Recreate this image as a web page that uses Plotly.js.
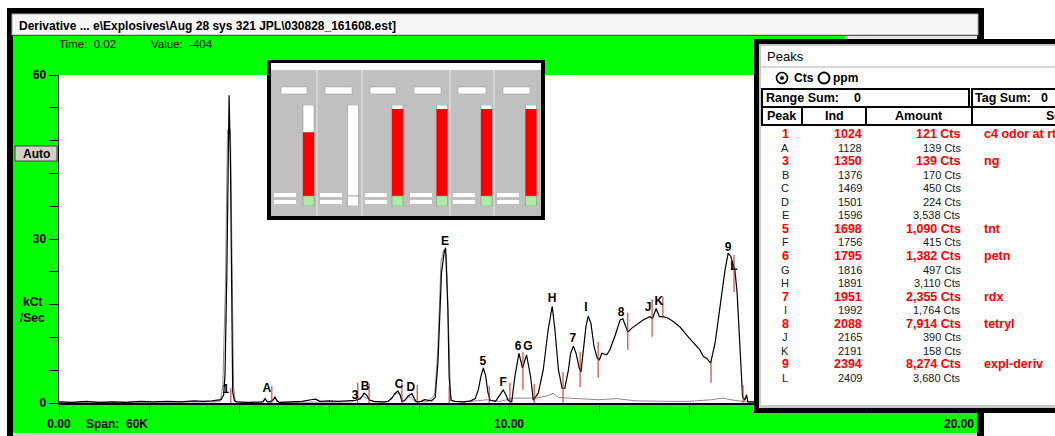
<!DOCTYPE html>
<html><head><meta charset="utf-8">
<script src="https://cdn.plot.ly/plotly-3.0.1.min.js"></script>
<style>html,body{margin:0;padding:0;background:#fff;overflow:hidden}#chart{width:1055px;height:436px}</style>
</head><body><div id="chart"></div>
<script>
// ---------- chart data ----------
const timeMain = [
 0,0.3,0.6,0.9,1.2,1.5,1.8,2.1,2.4,2.7,3.0,3.2,3.4,3.52,
 3.60,3.66,3.69,3.73,3.76,3.78,3.81,3.84,3.86,3.90,3.95,
 4.2,4.45,4.53,4.58,4.63,4.70,4.76,4.80,4.85,4.90,
 5.1,5.4,5.6,5.7,5.8,6.0,6.2,6.45,6.6,
 6.70,6.78,6.84,6.90,7.0,7.2,7.31,
 7.40,7.47,7.53,7.58,7.62,
 7.68,7.76,7.84,7.88,7.93,
 7.98,8.05,8.12,8.20,8.28,8.33,
 8.36,8.42,8.50,8.56,8.59,8.64,8.67,8.71,
 8.8,9.0,9.15,9.25,
 9.32,9.38,9.43,9.48,9.53,9.58,
 9.70,9.80,9.87,9.93,9.98,10.06,
 10.13,10.22,10.30,10.39,10.48,10.54,
 10.65,10.76,10.87,10.96,11.02,11.10,11.18,11.24,
 11.32,11.37,11.43,11.49,11.56,11.60,
 11.65,11.71,11.76,11.82,11.89,11.96,12.01,
 12.06,12.17,12.24,12.36,12.47,12.53,12.64,12.73,12.84,12.98,13.13,13.19,13.27,13.34,13.43,13.54,13.65,13.80,13.95,14.10,14.24,14.32,14.39,14.48,
 14.58,14.65,14.73,14.80,14.87,14.93,14.97,15.02,15.07,15.12,15.16,15.19,15.24,15.28,15.31,
 15.6,16.2,17.0,18.0,19.0,20.0
];
const signalMain = [
 0.2,0.1,0.3,0.1,0.2,0.1,0.3,0.2,0.3,0.2,0.4,0.3,0.4,0.5,
 0.6,1.5,5.5,23.8,44.4,56.3,44.0,20.0,2.0,0.4,0.2,
 0.1,0.2,0.2,0.8,0.2,0.2,0.6,1.1,0.3,0.1,
 0.2,0.3,0.6,0.7,0.3,0.4,0.3,0.5,0.5,
 0.8,1.8,1.4,0.5,0.3,0.2,0.3,
 0.9,1.8,2.2,1.5,0.3,
 0.4,1.3,1.7,1.1,0.3,
 0.2,0.3,0.6,0.5,0.4,0.8,
 1.0,7.3,23.8,27.6,28.4,17.6,4.8,0.5,
 0.3,0.2,0.4,0.8,
 2.5,5.0,6.4,5.0,2.0,0.5,
 0.3,1.5,2.4,1.5,0.5,0.2,
 4.8,9.1,6.4,8.8,4.8,0.5,
 1.8,6.0,13.4,17.7,13.4,6.0,2.7,2.7,
 6.0,9.1,10.4,9.1,6.4,5.7,
 9.1,14.0,15.9,14.6,10.3,8.2,7.9,
 9.1,8.8,9.7,12.4,15.2,15.4,13.0,13.7,14.3,15.2,15.8,15.5,17.3,15.8,15.8,15.5,14.9,13.9,12.4,10.9,9.7,8.5,8.2,7.3,
 11.0,15.2,20.1,24.3,27.4,26.8,25.6,24.3,20.1,12.1,4.2,1.2,0.5,1.5,0.2,
 0.2,0.1,0.2,0.1,0.2,0.1
];
const timeGray = [0,1,2,3,3.5,3.58,3.64,3.70,3.745,3.81,3.85,3.88,3.92,4.0,4.5,4.58,4.65,4.8,4.9,5.5,6.5,6.75,6.85,7.0,7.3,7.45,7.55,7.65,7.8,7.9,8.2,8.35,8.42,8.49,8.55,8.61,8.66,8.70,8.74,9.0,9.3,9.5,9.8,10.1,10.6,10.85,10.98,11.1,11.3,12.0,12.4,12.8,13.5,14.0,14.5,14.75,15.0,15.3,16,18,20];
const signalGray = [0.1,0.1,0.1,0.1,0.2,0.3,3.0,22,50,50,22,3.0,0.3,0.1,0.1,0.6,0.2,0.8,0.1,0.1,0.2,1.2,0.9,0.2,0.2,1.5,1.8,0.4,1.2,0.3,0.2,1.5,10,26,28,27,10,1.5,0.3,0.2,0.4,0.6,0.3,0.9,0.9,1.3,1.8,1.0,0.9,0.6,0.8,0.4,0.3,0.3,0.6,0.9,0.5,0.2,0.1,0.1,0.1];

const peakLabels = ['1','A','3','B','C','D','E','5','F','6','G','H','7','I','8','J','K','9','L'];
const labelTime  = [3.71,4.62,6.58,6.80,7.56,7.82,8.58,9.42,9.87,10.20,10.42,10.96,11.42,11.71,12.49,13.09,13.33,14.87,15.00];
const labelLevel = [2.4,2.6,1.3,2.9,3.3,2.7,29.4,7.5,3.7,10.2,10.2,19.0,11.7,17.4,16.5,17.4,18.5,28.4,24.9];

const markerTime   = [3.82,4.73,6.64,6.89,7.62,7.96,8.67,9.56,10.02,10.31,10.56,11.20,11.58,11.98,12.64,13.18,13.42,14.49,15.00,15.20];
const markerTop    = [2.7,3.1,3.7,3.5,3.7,3.3,3.1,3.1,3.7,9.3,3.5,5.7,9.3,11.2,16.5,19.0,19.4,7.9,27.1,3.3];
const markerBottom = [0,0,0,0,0,0,0,0,0,2.4,0,0,2.9,4.6,9.7,12.1,15.5,3.7,20.3,0];

const xTickVals = [0,2,4,6,8,10,12,14,16,18,20];
const xTickText = ['0.00','','','','','10.00','','','','','20.00'];
const yTickVals = [0,6,12,18,24,30,36,42,48,54,60];
const yTickText = ['0','','','','','30','','','','','60'];

const peakIds    = ['1','A','3','B','C','D','E','5','F','6','G','H','7','I','8','J','K','9','L'];
const peakInd    = [1024,1128,1350,1376,1469,1501,1596,1698,1756,1795,1816,1891,1951,1992,2088,2165,2191,2394,2409];
const peakAmount = [121,139,139,170,450,224,3538,1090,415,1382,497,3110,2355,1764,7914,390,158,8274,3680];
const peakSource = ['c4 odor at rt','','ng','','','','','tnt','','petn','','','rdx','','tetryl','','','expl-deriv',''];

const sensorIndex  = [0,1,2,3,4,5];
const sensorLevels = [0.70,0,0.955,0.955,0.955,0.955];
const sensorStatus = [1,0,1,1,1,1];

// ---------- page geometry helpers ----------
const FONT = 'Liberation Sans, Arial, sans-serif';
const PL=59, PR=959, PT=75, PB=403;
const PW=PR-PL, PH=PB-PT;
const fx = p => (p-PL)/PW, fy = p => (PB-p)/PH;
const shapes = [], annotations = [];
function rect(x0,y0,x1,y1,fill,layer,lc,lw){
  shapes.push({type:'rect',xref:'paper',yref:'paper',x0:fx(x0),x1:fx(x1),y0:fy(y1),y1:fy(y0),
    fillcolor:fill,line:{color:lc||'rgba(0,0,0,0)',width:lw||0},layer:layer||'below'});
}
function line(x0,y0,x1,y1,color,w,layer){
  shapes.push({type:'line',xref:'paper',yref:'paper',x0:fx(x0),x1:fx(x1),y0:fy(y0),y1:fy(y1),
    line:{color:color,width:w},layer:layer||'below'});
}
function circle(cx,cy,r,fill,lc,lw,layer){
  shapes.push({type:'circle',xref:'paper',yref:'paper',x0:fx(cx-r),x1:fx(cx+r),y0:fy(cy+r),y1:fy(cy-r),
    fillcolor:fill,line:{color:lc,width:lw},layer:layer||'above'});
}
function txt(px,py,s,o){
  o=o||{};
  annotations.push({xref:'paper',yref:'paper',x:fx(px),y:fy(py),text:s,showarrow:false,
    xanchor:o.anchor||'left',yanchor:'middle',borderpad:0,
    font:{family:FONT,size:o.size||11,color:o.color||'#000',weight:o.weight||'normal'}});
}

// main window frame
rect(7,8,984,440,'#000');
rect(12,14,978,35,'#f6f6f6','below','#a8a8a8',1);
rect(13,36,977,433,'#00ff00');
rect(13,433,977,437,'#d0d0d0');
rect(845,36,977,41,'#e4e4e4');
rect(PL,PT,PR,PB,'#ffffff');
txt(18,26,'Derivative ... e\\Explosives\\Aug 28 sys 321 JPL\\030828_161608.est]',{size:12,weight:'bold'});
txt(58,44,'Time:  0.02',{size:11.5});
txt(150,44,'Value:  -404',{size:11.5});
rect(15,146,57,161,'#d4d0c8','below','#404040',1);
txt(36,153.5,'Auto',{size:12,weight:'bold',anchor:'center'});
txt(32.5,302,'kCt',{size:12,weight:'bold',anchor:'center'});
txt(32,318,'/Sec',{size:12,weight:'bold',anchor:'center'});
txt(85,424,'Span:  60K',{size:12,weight:'bold'});

// inset sensor display (background, bars come from traces)
rect(267,60,545,220,'#000');
rect(271,63,541,70,'#ffffff');
rect(271,70,541,216,'#c0c0c0');
[317,362,450,494].forEach(x=>line(x,70,x,216,'#e6e6e6',1));
const colLeft=[271,317,362,407,450,494];
const boxX=[[281,307],[325,352],[370,396],[414,441],[458,486],[503,530]];
boxX.forEach(b=>rect(b[0],87,b[1],94,'#ffffff','below','#909090',0.5));
colLeft.forEach(c=>{rect(c+3,193,c+25,197,'#ffffff');rect(c+3,200,c+25,204,'#ffffff');});

// peaks panel (drawn above the plot)
rect(754,39,1062,413,'#000','above');
rect(759,44,1062,408,'#c8c8c8','above');
rect(761,46,1062,405,'#fdfdfd','above');
line(761,67,1062,67,'#b4b4b4',1,'above');
rect(762,89,969,107,'rgba(0,0,0,0)','above','#000',2);
rect(972,89,1064,107,'rgba(0,0,0,0)','above','#000',2);
[[762,802],[802,866],[866,972],[972,1064]].forEach(c=>rect(c[0],107,c[1],125,'rgba(0,0,0,0)','above','#000',2));
circle(782,78,5.5,'#fdfdfd','#000',1.6);
circle(782,78,1.8,'#000','#000',0.5);
circle(824,78,5.5,'#fdfdfd','#000',2);
txt(766,57,'Peaks',{size:13});
txt(793,78,'Cts',{size:12,weight:'bold'});
txt(832,78,'ppm',{size:12,weight:'bold'});
txt(765,98,'Range Sum:',{size:12.5,weight:'bold'});
txt(857,98,'0',{size:12.5,weight:'bold',anchor:'center'});
txt(974,98,'Tag Sum:',{size:12.5,weight:'bold'});
txt(1044,98,'0',{size:12.5,weight:'bold',anchor:'center'});
txt(766,116,'Peak',{size:12.5,weight:'bold'});
txt(834,116,'Ind',{size:12.5,weight:'bold',anchor:'center'});
txt(919,116,'Amount',{size:12.5,weight:'bold',anchor:'center'});
txt(1045,116,'Source',{size:12.5,weight:'bold'});
peakIds.forEach((id,i)=>{
  const y=134+i*13.55, tag=peakSource[i]!=='';
  const o=tag?{size:12.5,weight:'bold',color:'#ff0000'}:{size:11,color:'#202020'};
  txt(785,y,id,Object.assign({anchor:'center'},o));
  txt(863,y,String(peakInd[i]),Object.assign({anchor:'right'},o));
  txt(962,y,peakAmount[i].toLocaleString('en-US')+' Cts',Object.assign({anchor:'right'},o));
  if(tag) txt(983,y,peakSource[i],o);
});

// ---------- traces ----------
const mx=[], my=[];
markerTime.forEach((t,i)=>{mx.push(t,t,null);my.push(markerTop[i],markerBottom[i],null);});
const traces = [
  {type:'scatter',mode:'lines',x:timeGray,y:signalGray,line:{color:'#8a8a8a',width:1},hoverinfo:'skip'},
  {type:'scatter',mode:'lines',x:timeMain,y:signalMain,line:{color:'#000',width:1.2},hoverinfo:'skip'},
  {type:'scatter',mode:'lines',x:mx,y:my,line:{color:'#c8201c',width:1},hoverinfo:'skip'},
  {type:'scatter',mode:'text',x:labelTime,y:labelLevel,text:peakLabels,textposition:'middle center',
   textfont:{family:FONT,size:12,weight:'bold',color:'#000'},hoverinfo:'skip'},
  {type:'bar',x:sensorIndex,y:sensorIndex.map(()=>1),base:0,width:0.25,xaxis:'x2',yaxis:'y2',
   marker:{color:'#ffffff',line:{color:'#8c8c8c',width:0.6}},hoverinfo:'skip'},
  {type:'bar',x:sensorIndex,y:sensorLevels,base:0,width:0.25,xaxis:'x2',yaxis:'y2',
   marker:{color:'#ff0000',line:{width:0}},hoverinfo:'skip'},
  {type:'bar',x:sensorIndex,y:sensorIndex.map(()=>0.11),base:-0.11,width:0.25,xaxis:'x2',yaxis:'y2',
   marker:{color:sensorStatus.map(s=>s?'#a8f0a0':'#ffffff'),line:{color:'#8c8c8c',width:0.6}},hoverinfo:'skip'}
];

const axisFont={family:FONT,size:12,weight:'bold',color:'#000'};
const layout = {
  width:1055,height:436,margin:{l:PL,r:1055-PR,t:PT,b:436-PB,pad:0},
  paper_bgcolor:'#ffffff',plot_bgcolor:'rgba(0,0,0,0)',showlegend:false,barmode:'overlay',
  xaxis:{range:[0,20],tickmode:'array',tickvals:xTickVals,ticktext:xTickText,ticks:'outside',ticklen:9,
    tickwidth:1,tickcolor:'#000',showline:true,linecolor:'#000',linewidth:1.5,showgrid:false,zeroline:false,
    tickfont:axisFont,fixedrange:true},
  yaxis:{range:[0,60],tickmode:'array',tickvals:yTickVals,ticktext:yTickText,ticks:'outside',ticklen:9,
    tickwidth:1,tickcolor:'#000',showline:true,linecolor:'#000',linewidth:1.5,showgrid:false,zeroline:false,
    tickfont:axisFont,fixedrange:true},
  xaxis2:{domain:[fx(286.25),fx(553.25)],range:[-0.5,5.5],visible:false,anchor:'y2',fixedrange:true},
  yaxis2:{domain:[fy(206),fy(105)],range:[-0.11,1],visible:false,anchor:'x2',fixedrange:true},
  shapes:shapes,annotations:annotations
};
Plotly.newPlot('chart',traces,layout,{staticPlot:true,displayModeBar:false});
</script></body></html>
